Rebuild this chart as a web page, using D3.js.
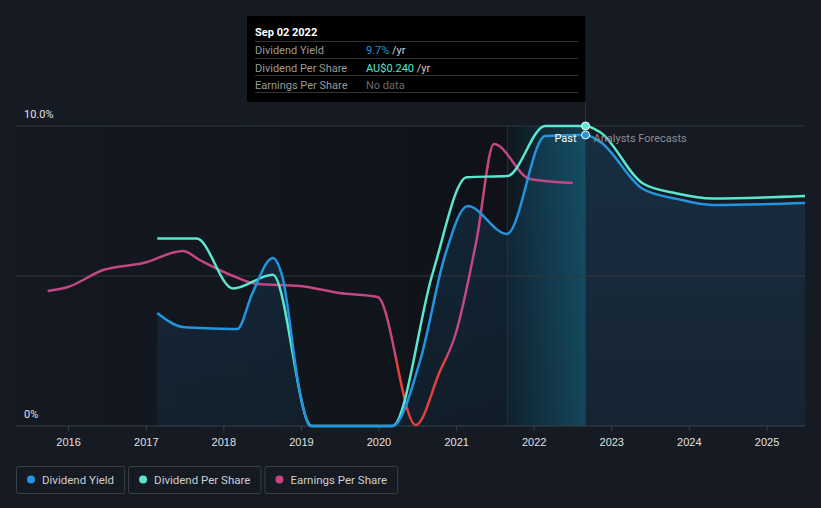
<!DOCTYPE html>
<html>
<head>
<meta charset="utf-8">
<script src="https://cdn.jsdelivr.net/npm/d3@7"></script>
<style>
  body { margin: 0; background: #151a23; }
  svg { display: block; font-family: Roboto, "Noto Sans", sans-serif; }
</style>
</head>
<body>
<svg id="chart"></svg>
<script>
// dividend yield (%), past and analyst forecast
const yieldDates = ['2017-02-24', '2017-06-25', '2017-09-12', '2018-03-07', '2018-05-18', '2018-08-22', '2018-10-05', '2018-12-28', '2019-02-14', '2020-03-07', '2020-07-16', '2020-11-10', '2021-02-24', '2021-08-28', '2022-02-24', '2022-09-02'];
const yieldValues = [3.77, 3.3, 3.27, 3.23, 4.43, 5.6, 5.0, 1.1, 0, 0, 2.2, 5.7, 7.33, 6.4, 9.67, 9.7];
const yieldFcDates = ['2022-11-10', '2023-05-30', '2023-11-06', '2024-04-22', '2025-07-01'];
const yieldFcValues = [9.47, 7.9, 7.57, 7.37, 7.43];

// dividend per share (AU$)
const dpsDates = ['2017-02-24', '2017-08-28', '2018-02-15', '2018-08-22', '2019-02-20', '2020-03-07', '2020-09-12', '2021-02-20', '2021-08-30', '2022-02-24', '2022-09-02'];
const dpsValues = [0.150, 0.150, 0.110, 0.121, 0, 0, 0.122, 0.199, 0.200, 0.240, 0.240];
const dpsFcDates = ['2022-11-10', '2023-05-30', '2023-11-06', '2024-04-22', '2025-07-01'];
const dpsFcValues = [0.235, 0.194, 0.186, 0.182, 0.184];

// earnings per share (AU$)
const epsDates = ['2015-09-27', '2016-01-01', '2016-06-14', '2016-12-20', '2017-06-25', '2017-09-12', '2018-02-16', '2018-06-10', '2018-12-28', '2019-07-01', '2019-12-28', '2020-06-25', '2020-10-15', '2020-12-28', '2021-04-07', '2021-06-28', '2021-12-14', '2022-07-04'];
const epsValues = [0.066, 0.070, 0.087, 0.094, 0.106, 0.097, 0.081, 0.073, 0.071, 0.064, 0.060, -0.068, -0.015, 0.022, 0.117, 0.213, 0.178, 0.174];

const yearTicks = [2016, 2017, 2018, 2019, 2020, 2021, 2022, 2023, 2024, 2025];
const yTickLabels = ['0%', '10.0%'];
const legendItems = ['Dividend Yield', 'Dividend Per Share', 'Earnings Per Share'];
const legendColors = ['#2394df', '#5ce5cf', '#c24782'];
const todayDate = '2022-09-02';
const bandStart = '2021-08-30';

const W = 821, H = 508;
const parse = d3.timeParse('%Y-%m-%d');
const zip = (ds, vs) => ds.map((d, i) => ({ date: parse(d), value: vs[i] }));

const yieldData = zip(yieldDates.concat(yieldFcDates), yieldValues.concat(yieldFcValues));
const dpsData = zip(dpsDates.concat(dpsFcDates), dpsValues.concat(dpsFcValues));
const epsData = zip(epsDates, epsValues);

const svg = d3.select('#chart').attr('width', W).attr('height', H);
svg.append('rect').attr('width', W).attr('height', H).attr('fill', '#151a23');

const plotLeft = 16, plotRight = 805, plotTop = 126, plotBottom = 426;

const x = d3.scaleTime()
  .domain([parse('2015-05-01'), parse('2025-07-01')])
  .range([plotLeft, plotRight]);
const yYield = d3.scaleLinear().domain([0, 10]).range([plotBottom, plotTop]);
const yDps = d3.scaleLinear().domain([0, 0.24]).range([plotBottom, plotTop]);
const yEps = d3.scaleLinear().domain([-0.069, 0.231]).range([plotBottom, plotTop]);

const today = x(parse(todayDate));
const band = x(parse(bandStart));

const defs = svg.append('defs');
const pastGrad = defs.append('linearGradient').attr('id', 'pastGrad');
pastGrad.append('stop').attr('offset', '0%').attr('stop-color', '#000').attr('stop-opacity', 0.05);
pastGrad.append('stop').attr('offset', '100%').attr('stop-color', '#000').attr('stop-opacity', 0.35);

const bandGrad = defs.append('linearGradient').attr('id', 'bandGrad');
bandGrad.append('stop').attr('offset', '0%').attr('stop-color', '#1aa3c8').attr('stop-opacity', 0.03);
bandGrad.append('stop').attr('offset', '100%').attr('stop-color', '#1aa3c8').attr('stop-opacity', 0.32);

const fillGrad = defs.append('linearGradient').attr('id', 'fillGrad')
  .attr('x1', 0).attr('y1', 0).attr('x2', 0).attr('y2', 1);
fillGrad.append('stop').attr('offset', '0%').attr('stop-color', '#2394df').attr('stop-opacity', 0.16);
fillGrad.append('stop').attr('offset', '100%').attr('stop-color', '#2394df').attr('stop-opacity', 0.08);

// past background and last-year band
svg.append('rect').attr('x', plotLeft).attr('y', plotTop).attr('width', today - plotLeft).attr('height', plotBottom - plotTop)
  .attr('fill', 'url(#pastGrad)');

// area under dividend yield
const area = d3.area().curve(d3.curveMonotoneX)
  .x(d => x(d.date)).y0(plotBottom).y1(d => yYield(d.value));
svg.append('path').datum(yieldData).attr('d', area).attr('fill', 'url(#fillGrad)');

svg.append('rect').attr('x', band).attr('y', plotTop).attr('width', today - band).attr('height', plotBottom - plotTop)
  .attr('fill', 'url(#bandGrad)');
svg.append('line').attr('x1', band).attr('x2', band).attr('y1', plotTop).attr('y2', plotBottom)
  .attr('stroke', '#123a48').attr('stroke-width', 1);
svg.append('line').attr('x1', today).attr('x2', today).attr('y1', 16).attr('y2', plotBottom)
  .attr('stroke', '#0e4052').attr('stroke-width', 1);

// gridlines
svg.selectAll('.grid').data([0, 5, 10]).join('line')
  .attr('x1', plotLeft).attr('x2', plotRight)
  .attr('y1', d => yYield(d)).attr('y2', d => yYield(d))
  .attr('stroke', d => d === 0 ? '#3b414b' : '#30363f').attr('stroke-width', 1);

// x axis
const xAxis = d3.axisBottom(x)
  .tickValues(yearTicks.map(y => new Date(y, 0, 1)))
  .tickFormat(d3.timeFormat('%Y'))
  .tickSize(5).tickSizeOuter(0);
const xAxisG = svg.append('g').attr('transform', `translate(0,${plotBottom})`).call(xAxis);
xAxisG.select('.domain').remove();
xAxisG.selectAll('line').attr('stroke', '#3b414b');
xAxisG.selectAll('text').attr('fill', '#e0e0e0').attr('font-size', 11).attr('dy', '1.05em');

// y labels
svg.selectAll('.ylab').data([0, 10]).join('text')
  .attr('x', 24).attr('y', d => yYield(d) - 8)
  .attr('fill', '#e0e0e0').attr('font-size', 11)
  .text((d, i) => yTickLabels[i]);

// lines
const line = s => d3.line().curve(d3.curveMonotoneX).x(d => x(d.date)).y(d => s(d.value));

defs.append('clipPath').attr('id', 'epsPos').append('rect')
  .attr('x', 0).attr('y', 0).attr('width', W).attr('height', yEps(0));
defs.append('clipPath').attr('id', 'epsNeg').append('rect')
  .attr('x', 0).attr('y', yEps(0)).attr('width', W).attr('height', H - yEps(0));

svg.append('path').datum(epsData).attr('d', line(yEps)).attr('fill', 'none')
  .attr('stroke', '#c24782').attr('stroke-width', 2.5).attr('clip-path', 'url(#epsPos)');
svg.append('path').datum(epsData).attr('d', line(yEps)).attr('fill', 'none')
  .attr('stroke', '#e5403a').attr('stroke-width', 2.5).attr('clip-path', 'url(#epsNeg)');

svg.append('path').datum(dpsData).attr('d', line(yDps)).attr('fill', 'none')
  .attr('stroke', '#5ce5cf').attr('stroke-width', 2.5);
svg.append('path').datum(yieldData).attr('d', line(yYield)).attr('fill', 'none')
  .attr('stroke', '#2394df').attr('stroke-width', 2.5);

// today markers
const tYield = yieldData.find(d => +d.date === +parse(todayDate));
const tDps = dpsData.find(d => +d.date === +parse(todayDate));
svg.append('circle').attr('cx', today).attr('cy', yDps(tDps.value)).attr('r', 4)
  .attr('fill', '#5ce5cf').attr('stroke', '#fff').attr('stroke-width', 1);
svg.append('circle').attr('cx', today).attr('cy', yYield(tYield.value)).attr('r', 4)
  .attr('fill', '#2394df').attr('stroke', '#fff').attr('stroke-width', 1);

svg.append('text').attr('x', today - 9).attr('y', 142).attr('text-anchor', 'end')
  .attr('fill', '#fff').attr('font-size', 11).text('Past');
svg.append('text').attr('x', today + 8).attr('y', 142)
  .attr('fill', '#8a8f96').attr('font-size', 11).text('Analysts Forecasts');

// tooltip
const tip = svg.append('g');
tip.append('rect').attr('x', 247).attr('y', 16).attr('width', today - 247).attr('height', 86).attr('fill', '#000');
tip.append('text').attr('x', 255).attr('y', 36).attr('fill', '#fff').attr('font-size', 11)
  .attr('font-weight', 'bold').text('Sep 02 2022');
[41.5, 58.5, 75.5, 92.5].forEach(yy => {
  tip.append('line').attr('x1', 255).attr('x2', 578).attr('y1', yy).attr('y2', yy)
    .attr('stroke', '#333').attr('stroke-width', 1);
});
const rows = [
  { label: 'Dividend Yield', value: d3.format('.1f')(tYield.value) + '%', color: '#2394df', unit: ' /yr' },
  { label: 'Dividend Per Share', value: 'AU$' + d3.format('.3f')(tDps.value), color: '#5ce5cf', unit: ' /yr' },
  { label: 'Earnings Per Share', value: 'No data', color: '#6b6b6b', unit: '' }
];
rows.forEach((r, i) => {
  const yy = 54 + i * 17.5;
  tip.append('text').attr('x', 255).attr('y', yy).attr('fill', '#9a9a9a').attr('font-size', 11).text(r.label);
  const t = tip.append('text').attr('x', 366).attr('y', yy).attr('font-size', 11);
  t.append('tspan').attr('fill', r.color).text(r.value);
  t.append('tspan').attr('fill', '#cfcfcf').text(r.unit);
});

// legend
let lx = 16;
legendItems.forEach((name, i) => {
  const g = svg.append('g').attr('transform', `translate(${lx},466)`);
  const txt = g.append('text').attr('x', 26).attr('y', 17.5).attr('fill', '#cfcfcf')
    .attr('font-size', 11.5).text(name);
  const w = txt.node().getComputedTextLength() + 36;
  g.insert('rect', 'text').attr('x', 0.5).attr('y', 0.5).attr('width', w).attr('height', 27)
    .attr('rx', 2).attr('fill', 'none').attr('stroke', '#3a4049');
  g.append('circle').attr('cx', 15).attr('cy', 13.5).attr('r', 4).attr('fill', legendColors[i]);
  lx += w + 4;
});
</script>
</body>
</html>
